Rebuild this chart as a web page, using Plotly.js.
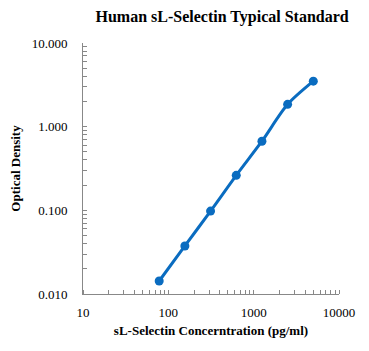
<!DOCTYPE html>
<html><head><meta charset="utf-8">
<script src="https://cdn.plot.ly/plotly-3.0.1.min.js"></script>
<style>html,body{margin:0;padding:0;background:#fff}</style>
</head><body><div id="c" style="width:369px;height:351px"></div>
<script>
const concentrations = [78.125, 156.25, 312.5, 625, 1250, 2500, 5000];
const opticalDensity = [0.0143, 0.0375, 0.098, 0.262, 0.67, 1.85, 3.5];
const xMajorVals = [10, 100, 1000, 10000];
const xMajorText = ['10', '100', '1000', '10000'];
const xMinorVals = [10,20,30,40,50,60,70,80,90,100,200,300,400,500,600,700,800,900,1000,2000,3000,4000,5000,6000,7000,8000,9000,10000];
const yTickVals = [0.01,0.02,0.03,0.04,0.05,0.06,0.07,0.08,0.09,0.1,0.2,0.3,0.4,0.5,0.6,0.7,0.8,0.9,1,2,3,4,5,6,7,8,9,10];
const yTickText = yTickVals.map(v => [0.01,0.1,1,10].includes(v) ? v.toFixed(3) : '');

const blue = '#0A6CC0';
const font = 'Liberation Serif, Times New Roman, serif';
Plotly.newPlot('c', [{
  x: concentrations, y: opticalDensity, type: 'scatter', mode: 'lines+markers',
  line: {color: blue, width: 3, shape: 'spline', smoothing: 0.8},
  marker: {color: blue, size: 9}
}], {
  width: 369, height: 351,
  margin: {l: 83, r: 30, t: 43, b: 57},
  paper_bgcolor: '#fff', plot_bgcolor: '#fff',
  showlegend: false,
  font: {family: font, color: '#000', size: 13},
  title: {text: '<b>Human sL-Selectin Typical Standard</b>', font: {family: font, size: 16, color: '#000'},
          x: 0.602, xref: 'container', xanchor: 'center', y: 0.952, yref: 'container', yanchor: 'middle'},
  xaxis: {type: 'log', range: [1, 4], tickmode: 'array', tickvals: xMajorVals, ticktext: xMajorText,
          ticks: 'outside', ticklen: 6, tickcolor: 'rgba(0,0,0,0)', tickwidth: 1,
          minor: {tickmode: 'array', tickvals: xMinorVals, ticks: 'inside', ticklen: 4, tickcolor: '#888', tickwidth: 1, showgrid: false},
          showline: true, linecolor: '#888', linewidth: 1, showgrid: false, zeroline: false,
          tickfont: {family: font, size: 13, color: '#000'},
          title: {text: '<b>sL-Selectin Concerntration (pg/ml)</b>', font: {family: font, size: 13, color: '#000'}, standoff: 7}},
  yaxis: {type: 'log', range: [-2, 1], tickvals: yTickVals, ticktext: yTickText,
          ticks: 'inside', ticklen: 4, tickcolor: '#888', tickwidth: 1, ticklabelstandoff: 12,
          showline: true, linecolor: '#888', linewidth: 1, showgrid: false, zeroline: false,
          tickfont: {family: font, size: 13, color: '#000'},
          title: {text: '<b>Optical Density</b>', font: {family: font, size: 13, color: '#000'}, standoff: 8}}
}, {displayModeBar: false, staticPlot: true});
</script></body></html>
